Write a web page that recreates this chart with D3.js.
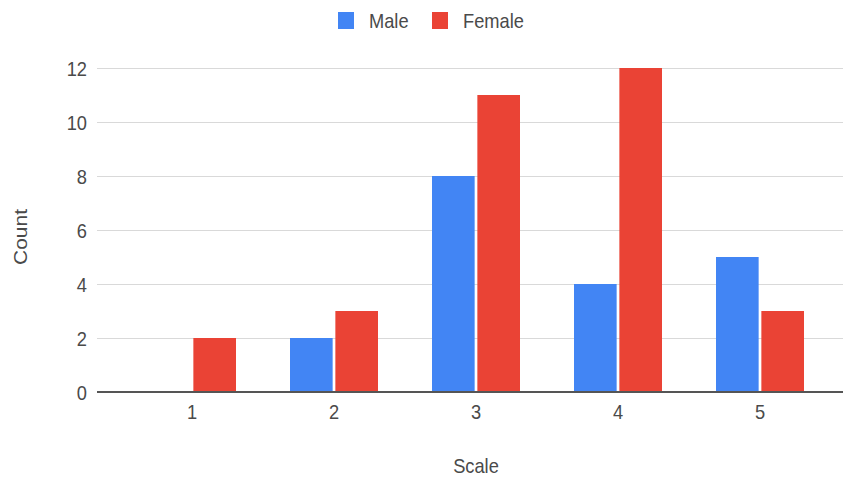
<!DOCTYPE html>
<html>
<head>
<meta charset="utf-8">
<script src="https://cdn.jsdelivr.net/npm/d3@7"></script>
<style>
  html, body { margin: 0; padding: 0; background: #fff; }
  svg { display: block; font-family: "Liberation Sans", Arial, sans-serif; }
</style>
</head>
<body>
<svg id="chart" width="846" height="482"></svg>
<script>
// Response counts per scale point, split by gender
const categories = ["1", "2", "3", "4", "5"];
const seriesNames = ["Male", "Female"];
const maleCounts = [0, 2, 8, 4, 5];
const femaleCounts = [2, 3, 11, 12, 3];
const yTicks = [0, 2, 4, 6, 8, 10, 12];
const seriesColors = ["#4285f4", "#ea4335"];

const rows = categories.map((c, i) => ({ cat: c, values: [maleCounts[i], femaleCounts[i]] }));

const svg = d3.select("#chart");
const plot = { left: 97, right: 843, top: 68, bottom: 392 };
const textColor = "#4a4a4a";
const fontSize = 21;
const squeeze = 0.87; // narrow lettering

// Horizontally condense a text element around its own anchor point
function condense(sel, ax, ay) {
  sel.attr("transform", `translate(${ax},${ay}) scale(${squeeze},1) translate(${-ax},${-ay})`);
}

const x = d3.scaleBand().domain(categories).range([121, 831]).paddingInner(0).paddingOuter(0);
const groupWidth = 88;
const x1 = d3.scaleBand().domain(seriesNames)
  .range([x.bandwidth() / 2 - groupWidth / 2, x.bandwidth() / 2 + groupWidth / 2])
  .paddingInner(0.06);
const y = d3.scaleLinear().domain([0, 12]).range([plot.bottom, plot.top]);

// Horizontal gridlines and y-axis labels
const yAxis = d3.axisLeft(y).tickValues(yTicks).tickSize(-(plot.right - plot.left)).tickPadding(10).tickFormat(d3.format("d"));
const gy = svg.append("g").attr("transform", `translate(${plot.left},0)`).call(yAxis);
gy.select(".domain").remove();
gy.selectAll(".tick line").attr("stroke", "#d9d9d9").attr("stroke-width", 1.2);
gy.selectAll(".tick text").attr("fill", textColor).attr("font-size", fontSize).attr("dy", "0.35em")
  .each(function () { condense(d3.select(this), -10, 0); });

// Bars
const groups = svg.append("g").selectAll("g").data(rows).join("g")
  .attr("transform", d => `translate(${x(d.cat)},0)`);
groups.selectAll("rect")
  .data(d => d.values.map((v, i) => ({ key: seriesNames[i], value: v, color: seriesColors[i] })))
  .join("rect")
  .attr("x", d => x1(d.key))
  .attr("width", x1.bandwidth())
  .attr("y", d => y(d.value))
  .attr("height", d => y(0) - y(d.value))
  .attr("fill", d => d.color);

// Baseline
svg.append("line")
  .attr("x1", plot.left).attr("x2", plot.right)
  .attr("y1", y(0)).attr("y2", y(0))
  .attr("stroke", "#555").attr("stroke-width", 2);

// X-axis labels
const xAxis = d3.axisBottom(x).tickSize(0).tickPadding(12);
const gx = svg.append("g").attr("transform", `translate(0,${plot.bottom})`).call(xAxis);
gx.select(".domain").remove();
gx.selectAll(".tick text").attr("fill", textColor).attr("font-size", fontSize)
  .each(function () { condense(d3.select(this), 0, 0); });

// Axis titles
const xTitle = svg.append("text")
  .attr("x", 476).attr("y", 473)
  .attr("text-anchor", "middle").attr("fill", textColor).attr("font-size", fontSize)
  .text("Scale");
condense(xTitle, 476, 473);
svg.append("text")
  .attr("transform", `translate(27,237) scale(${squeeze},1) rotate(-90)`)
  .attr("text-anchor", "middle").attr("fill", textColor).attr("font-size", fontSize)
  .text("Count");

// Legend
const legend = svg.append("g");
const legendItems = [
  { name: seriesNames[0], color: seriesColors[0], x: 338 },
  { name: seriesNames[1], color: seriesColors[1], x: 432 }
];
legendItems.forEach(it => {
  legend.append("rect").attr("x", it.x).attr("y", 12).attr("width", 16).attr("height", 17).attr("fill", it.color);
  const t = legend.append("text").attr("x", it.x + 31).attr("y", 28)
    .attr("fill", textColor).attr("font-size", fontSize).text(it.name);
  condense(t, it.x + 31, 28);
});
</script>
</body>
</html>
